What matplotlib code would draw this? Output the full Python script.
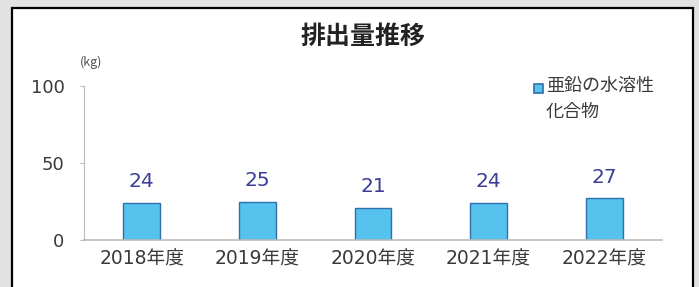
import matplotlib.pyplot as plt
from matplotlib.patches import Rectangle

plt.rcParams['font.family'] = ['DejaVu Sans', 'Noto Sans CJK JP']
cjk = ['Noto Sans CJK JP', 'DejaVu Sans']

years = ['2018年度', '2019年度', '2020年度', '2021年度', '2022年度']
values = [24, 25, 21, 24, 27]
series_name = '亜鉛の水溶性\n化合物'

W, H = 699, 287
fig = plt.figure(figsize=(W / 100, H / 100), dpi=100)
fig.patch.set_facecolor('#e2e2e2')

# white panel with black frame
panel = Rectangle((12 / W, -0.05), (693 - 12) / W, (H - 8) / H + 0.05,
                  transform=fig.transFigure, facecolor='white',
                  edgecolor='black', linewidth=1.6, zorder=-5)
fig.patches.append(panel)

ax = fig.add_axes([84 / W, (H - 240) / H, (662 - 84) / W, (240 - 86) / H])
ax.set_zorder(2)
ax.set_facecolor('none')
bars = ax.bar(range(len(years)), values, width=0.32, color='#55c3ee',
              edgecolor='#2d70ad', linewidth=1.0, label=series_name)
for i, v in enumerate(values):
    ax.text(i, v + 7.5, str(v), ha='center', va='bottom', fontsize=14.5,
            color='#3b3d96')

ax.set_xlim(-0.5, len(years) - 0.5)
ax.set_ylim(0, 100)
ax.set_yticks([0, 50, 100])
ax.set_xticks(range(len(years)))
ax.set_xticklabels(years, fontsize=13.5, color='#3a3a3a')
ax.tick_params(axis='y', labelsize=13, colors='#3a3a3a', length=3,
               color='#bbbbbb', pad=11)
ax.tick_params(axis='x', length=0, pad=7)
for s in ['top', 'right']:
    ax.spines[s].set_visible(False)
ax.spines['left'].set_color('#bbbbbb')
ax.spines['bottom'].set_color('#bbbbbb')
ax.spines['bottom'].set_linewidth(1.2)

fig.text(80 / W, (H - 62) / H, '(kg)', fontsize=9, color='#555555',
         ha='left', va='center', family=cjk)
fig.text(363 / W, (H - 37) / H, '排出量推移', fontsize=18, fontweight='bold',
         ha='center', va='center', color='#222222', family=cjk)

# legend drawn by hand so the swatch sits on the first line
fig.patches.append(Rectangle((534 / W, (H - 93) / H), 9 / W, 9 / H,
                             transform=fig.transFigure, facecolor='#55c3ee',
                             edgecolor='#2d70ad', linewidth=1.2, zorder=3))
fig.text(546 / W, (H - 77) / H, series_name, fontsize=13, color='#3a3a3a',
         ha='left', va='top', linespacing=1.55, family=cjk)

fig.savefig('out.png', dpi=100, facecolor=fig.get_facecolor())
